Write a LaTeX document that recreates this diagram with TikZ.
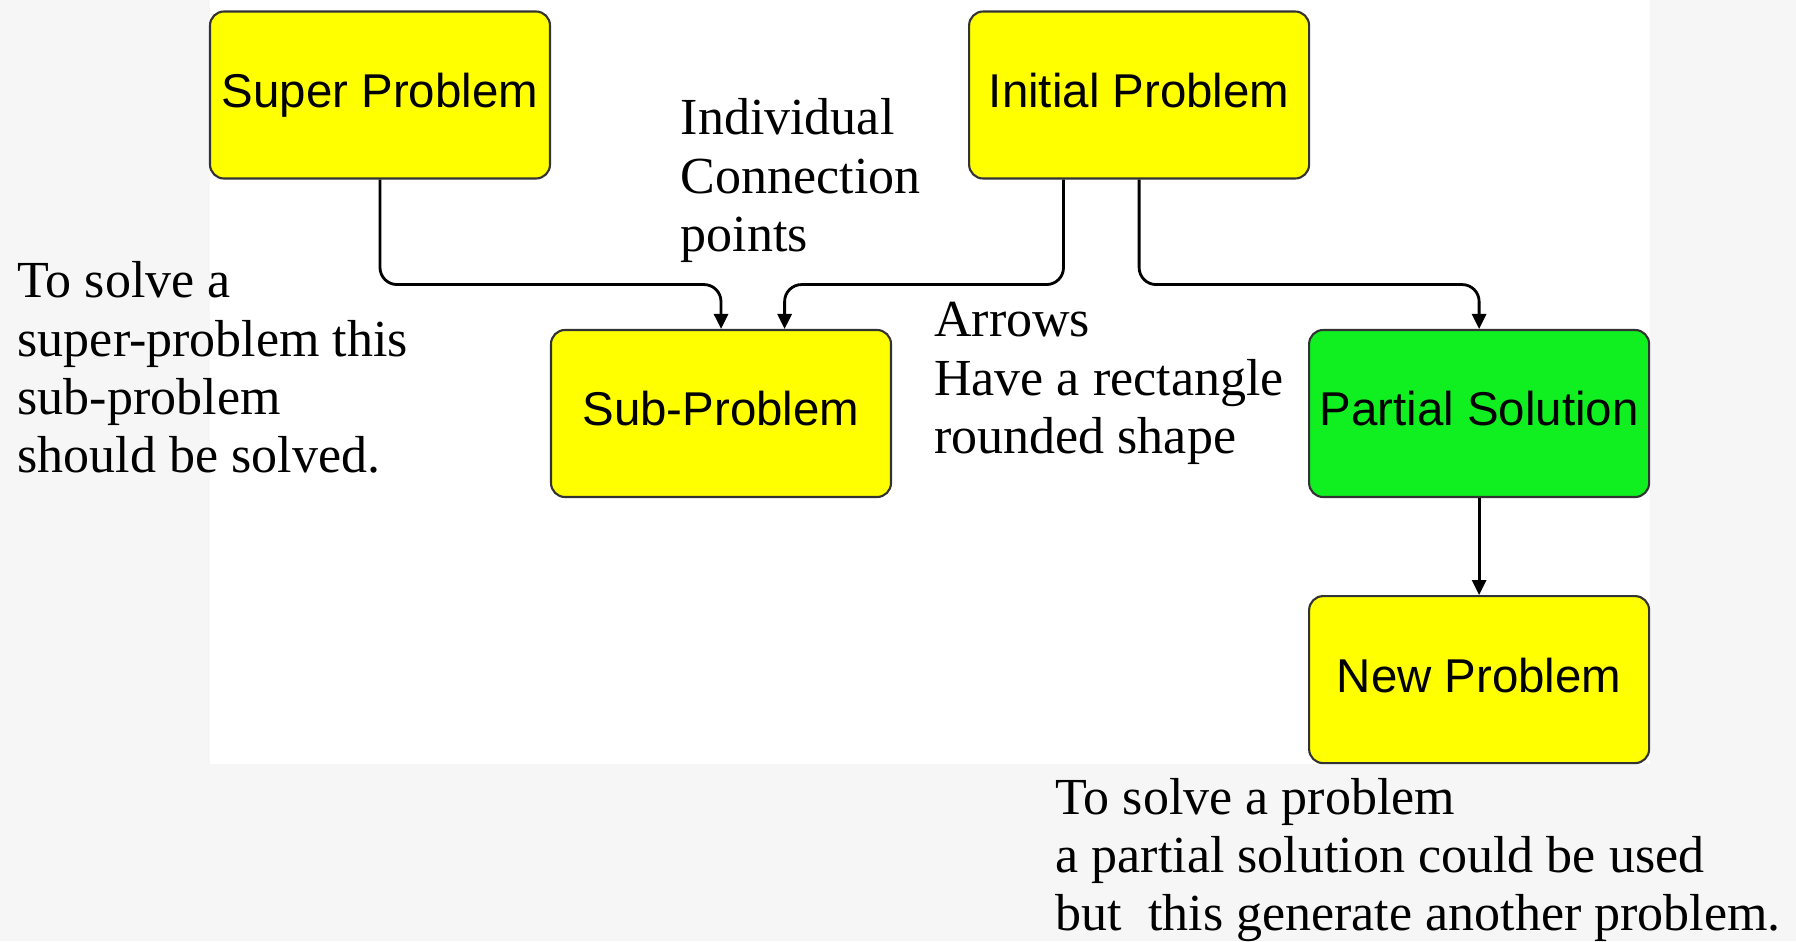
\documentclass[tikz,border=0pt]{standalone}
\usepackage{fontspec}
\setmainfont{Liberation Serif}
\newfontfamily\boxfont{Liberation Sans}
\usetikzlibrary{positioning,arrows.meta}
\definecolor{boxyellow}{RGB}{255,255,0}
\definecolor{boxgreen}{RGB}{16,240,32}
\definecolor{slidegray}{RGB}{246,246,246}
\tikzset{
  probbox/.style={draw=black!80,line width=0.6pt,rounded corners=1.4mm,fill=boxyellow,
    minimum width=3.4cm,minimum height=1.67cm,inner sep=0pt,text height=9.9pt,text depth=2.85pt,
    font=\boxfont\fontsize{13.5}{16}\selectfont},
  solbox/.style={probbox,fill=boxgreen},
  note/.style={align=left,inner sep=0pt,anchor=west,font=\fontsize{14.8}{16.6}\selectfont},
  conn/.style={draw,line width=0.8pt,rounded corners=1.7mm,-{Triangle[length=1.5mm,width=1.4mm]}},
}

\begin{document}
\begin{tikzpicture}

\useasboundingbox (0,0) rectangle (17.96,-9.41);
\fill[slidegray] (0,0) rectangle (17.96,-9.41);
\fill[white] (2.10,0) rectangle (16.50,-7.64);

\node[probbox] (super) at (3.80,-0.95) {Super Problem};
\node[probbox,right=4.17cm of super] (init) {Initial Problem};
\node[probbox] (sub) at (7.21,-4.135) {Sub-Problem};
\node[solbox,right=4.16cm of sub] (partial) {Partial Solution};
\node[probbox,below=0.97cm of partial] (new) {New Problem};

\draw[conn] (super.south) -- ++(0,-1.05) -| (sub.north);
\draw[conn] ([xshift=-0.756cm]init.south) -- ++(0,-1.05) -| ([xshift=0.636cm]sub.north);
\draw[conn] (init.south) -- ++(0,-1.05) -| (partial.north);
\draw[conn] (partial.south) -- (new.north);

\node[note] (conpts) at (6.80,-1.805) {Individual\\Connection\\points};
\node[note] (arrows) at (9.335,-3.835) {Arrows\\Have a rectangle\\rounded shape};
\node[note] (subnote) at (0.17,-3.675) {To solve a\\super-problem this\\sub-problem\\should be solved.};
\node[note] (partnote) at (10.55,-8.60) {To solve a problem\\a partial solution could be used\\but\ \ this generate another problem.};

\end{tikzpicture}
\end{document}
